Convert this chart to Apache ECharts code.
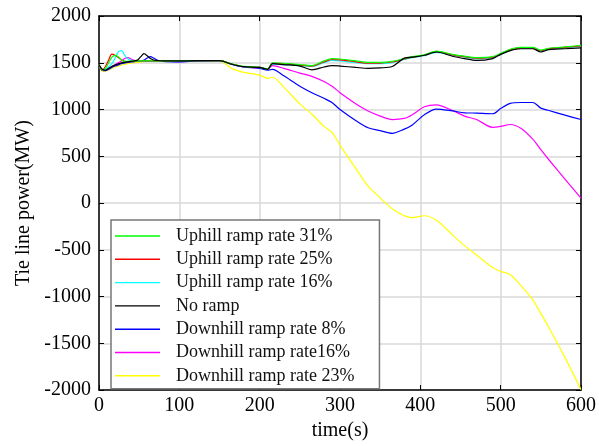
<!DOCTYPE html>
<html>
<head>
<meta charset="utf-8">
<script src="https://cdn.jsdelivr.net/npm/echarts@6/dist/echarts.min.js"></script>
<style>html,body{margin:0;padding:0;background:#fff}#c{width:599px;height:446px}</style>
</head>
<body>
<div id="c"></div>
<script>
var timeS = [0,4,8,12,16,20,24,28,32,36,40,44,48,52,56,60,64,68,72,80,100,120,150,165,180,200,210,216,230,250,265,280,290,300,320,335,350,365,380,390,405,420,440,455,470,490,500,512,525,540,550,560,580,600];
var seriesNames = ["Uphill ramp rate 31%","Uphill ramp rate 25%","Uphill ramp rate 16%","No ramp","Downhill ramp rate 8%","Downhill ramp rate16%","Downhill ramp rate 23%"];
var up31 = [1480,1425,1440,1500,1560,1580,1565,1530,1515,1515, 1518,1520,1520,1520,1520,1520,1520,1520,1520,1520, 1522,1522,1522,1488,1462,1450,1435,1500,1495,1480, 1470,1520,1545,1540,1520,1505,1505,1515,1545,1565, 1585,1625,1590,1570,1555,1565,1600,1645,1665,1665, 1635,1655,1670,1685];
var up25 = [1480,1420,1460,1530,1592,1580,1555,1530,1515,1512, 1515,1518,1520,1520,1520,1520,1520,1520,1520,1520, 1522,1522,1522,1487,1460,1450,1433,1495,1490,1475, 1465,1510,1535,1530,1510,1495,1497,1508,1540,1560, 1580,1620,1585,1565,1550,1560,1595,1640,1660,1660, 1630,1650,1665,1680];
var up16 = [1480,1420,1430,1455,1490,1550,1615,1630,1580,1540, 1525,1520,1520,1520,1520,1520,1520,1520,1520,1520, 1522,1522,1522,1486,1458,1450,1432,1485,1480,1470, 1460,1500,1525,1520,1500,1490,1490,1500,1535,1555, 1575,1612,1580,1560,1545,1555,1590,1635,1655,1655, 1625,1645,1660,1675];
var noRamp = [1480,1430,1420,1440,1460,1475,1488,1498,1505,1510, 1515,1520,1530,1565,1597,1575,1545,1530,1525,1520, 1520,1522,1522,1485,1458,1450,1430,1490,1480,1465, 1425,1455,1470,1465,1450,1440,1445,1460,1550,1560, 1580,1615,1570,1545,1525,1545,1590,1630,1650,1650, 1615,1640,1650,1660];
var down8 = [1480,1420,1415,1430,1450,1465,1478,1490,1498,1505, 1510,1513,1515,1520,1530,1550,1565,1550,1530,1515, 1510,1518,1522,1485,1455,1440,1420,1430,1360,1250, 1180,1120,1075,1000,880,805,775,745,790,835, 945,1005,985,965,962,955,1010,1065,1075,1075, 1015,990,940,893];
var down16 = [1480,1420,1420,1440,1460,1480,1500,1520,1545,1555, 1540,1525,1520,1518,1515,1515,1515,1515,1515,1515, 1512,1520,1522,1485,1455,1445,1430,1470,1440,1390, 1355,1300,1250,1180,1060,985,930,893,905,945, 1029,1050,990,930,893,810,820,840,800,683, 570,463,257,52];
var down23 = [1480,1410,1410,1425,1440,1455,1465,1475,1485,1490, 1495,1500,1505,1510,1512,1515,1518,1520,1520,1520, 1520,1520,1520,1440,1398,1368,1333,1345,1240,1060, 950,820,755,620,365,180,55,-60,-135,-155, -136,-185,-340,-455,-555,-690,-730,-766,-880,-1035, -1180,-1330,-1650,-1995];
var xTicks = [0,100,200,300,400,500,600];
var yTicks = [-2000,-1500,-1000,-500,0,500,1000,1500,2000];

var valueSets = [up31, up25, up16, noRamp, down8, down16, down23];
var colors = ['#00ff00','#ff0000','#00ffff','#000000','#0000ff','#ff00ff','#ffff00'];
var drawOrder = [6,5,4,2,1,0,3];
var font = '"Liberation Serif","Times New Roman",serif';

var series = drawOrder.map(function(k){
  return {
    name: seriesNames[k], type:'line', symbol:'none', smooth:0.3,
    data: timeS.map(function(t,i){return [t, valueSets[k][i]];}),
    lineStyle:{color:colors[k], width:1.2}, itemStyle:{color:colors[k]},
    z: 3, animation:false
  };
});

var chart = echarts.init(document.getElementById('c'));
chart.setOption({
  animation:false,
  backgroundColor:'#fff',
  grid:{left:99, right:17, top:16, bottom:48},
  legend:{
    data: seriesNames, orient:'vertical', left:111, top:220,
    itemWidth:45, itemHeight:14, itemGap:3.3,
    padding:[6,25,3,4],
    borderColor:'#777', borderWidth:1.5, backgroundColor:'#fff',
    textStyle:{fontFamily:font, fontSize:18, color:'#111', padding:[0,0,0,11], lineHeight:20},
    icon:'path://M0,0 L45,0 L45,1.4 L0,1.4 Z',
    z: 10
  },
  xAxis:[{
    type:'value', min:0, max:600, interval:100,
    name:'time(s)', nameLocation:'middle', nameGap:26,
    nameTextStyle:{fontFamily:font, fontSize:20, color:'#000'},
    axisLine:{show:true, onZero:false, lineStyle:{color:'#000', width:1.5}},
    axisTick:{show:true, inside:true, length:5, lineStyle:{color:'#000'}},
    axisLabel:{fontFamily:font, fontSize:20, color:'#000', margin:6,
      formatter:function(v){return xTicks.indexOf(v)>=0 ? String(v) : '';}},
    splitLine:{show:true, lineStyle:{color:'#d8d8d8', width:1.5}}
  },{
    type:'value', min:0, max:600, interval:100, position:'top',
    axisLine:{show:true, onZero:false, lineStyle:{color:'#000', width:1.5}},
    axisTick:{show:true, inside:true, length:5, lineStyle:{color:'#000'}},
    axisLabel:{show:false}, splitLine:{show:false}
  }],
  yAxis:[{
    type:'value', min:-2000, max:2000, interval:500,
    name:'Tie line power(MW)', nameLocation:'middle', nameGap:65,
    nameTextStyle:{fontFamily:font, fontSize:20, color:'#000'},
    axisLine:{show:true, onZero:false, lineStyle:{color:'#000', width:1.5}},
    axisTick:{show:true, inside:true, length:5, lineStyle:{color:'#000'}},
    axisLabel:{fontFamily:font, fontSize:20, color:'#000', margin:8,
      formatter:function(v){return yTicks.indexOf(v)>=0 ? String(v) : '';}},
    splitLine:{show:true, lineStyle:{color:'#d8d8d8', width:1.5}}
  },{
    type:'value', min:-2000, max:2000, interval:500, position:'right',
    axisLine:{show:true, onZero:false, lineStyle:{color:'#000', width:1.5}},
    axisTick:{show:true, inside:true, length:5, lineStyle:{color:'#000'}},
    axisLabel:{show:false}, splitLine:{show:false}
  }],
  series: series
});
</script>
</body>
</html>
